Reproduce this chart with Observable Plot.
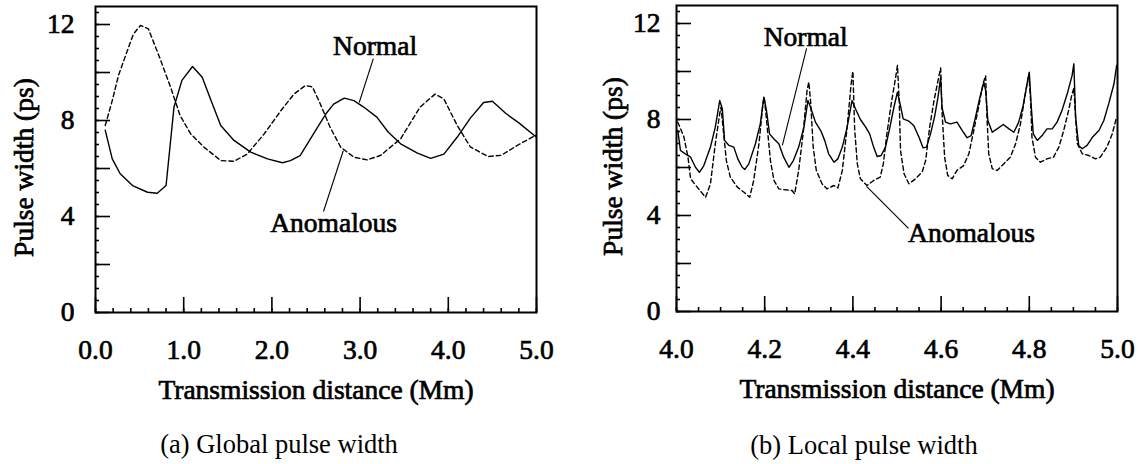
<!DOCTYPE html>
<html><head><meta charset="utf-8">
<script src="https://cdn.jsdelivr.net/npm/d3@7"></script>
<script src="https://cdn.jsdelivr.net/npm/@observablehq/plot@0.6"></script>
<style>
body{margin:0;background:#fff;}
#wrap{position:relative;width:1145px;height:464px;overflow:hidden;background:#fff;}
.panel{position:absolute;top:0;}
.panel text{stroke:#000;stroke-width:0.7px;}
.cap{position:absolute;font-family:"Liberation Serif","Times New Roman",serif;font-size:26.5px;color:#000;white-space:nowrap;transform:translate(-50%,-50%);}
</style></head><body>
<div id="wrap"></div>
<script>
// ---------- (a) Global pulse width ----------
const globalNormalX = [0.11,0.19,0.28,0.42,0.59,0.70,0.80,0.89,0.98,1.10,1.21,1.31,1.42,1.57,1.76,1.95,2.12,2.21,2.32,2.47,2.61,2.70,2.82,2.93,3.04,3.19,3.32,3.46,3.65,3.80,3.95,4.10,4.25,4.40,4.50,4.65,4.80,5.00];
const globalNormalY = [7.60,6.40,5.78,5.29,5.01,4.97,5.29,8.56,9.67,10.25,9.80,8.83,7.79,7.17,6.68,6.40,6.24,6.33,6.54,7.43,8.27,8.68,8.93,8.83,8.56,8.14,7.51,7.03,6.64,6.42,6.60,7.30,8.10,8.75,8.80,8.30,7.90,7.30];
const globalAnomX = [0.11,0.19,0.26,0.36,0.43,0.51,0.60,0.74,0.85,0.96,1.08,1.23,1.42,1.57,1.72,1.91,2.10,2.25,2.38,2.46,2.55,2.66,2.78,2.93,3.08,3.23,3.46,3.68,3.85,3.95,4.10,4.25,4.45,4.60,4.80,5.00];
const globalAnomY = [7.79,8.83,9.87,10.90,11.60,11.96,11.82,10.50,9.40,8.20,7.44,6.89,6.33,6.30,6.60,7.43,8.40,9.10,9.46,9.40,8.68,7.72,6.89,6.47,6.36,6.54,7.24,8.56,9.10,8.90,7.80,6.90,6.50,6.55,7.00,7.40];
const globalXTicks = [0,1,2,3,4,5];
const globalXTickLabels = ["0.0","1.0","2.0","3.0","4.0","5.0"];

// ---------- (b) Local pulse width ----------
const localNormalX = [4.003,4.009,4.020,4.032,4.043,4.052,4.062,4.077,4.088,4.098,4.104,4.109,4.119,4.130,4.139,4.149,4.155,4.164,4.179,4.190,4.198,4.204,4.211,4.221,4.232,4.243,4.255,4.265,4.277,4.289,4.298,4.304,4.315,4.327,4.336,4.345,4.357,4.366,4.376,4.387,4.398,4.406,4.417,4.429,4.438,4.447,4.455,4.464,4.474,4.484,4.493,4.501,4.507,4.514,4.527,4.538,4.550,4.559,4.567,4.576,4.585,4.593,4.599,4.602,4.610,4.621,4.636,4.648,4.659,4.668,4.678,4.688,4.697,4.701,4.706,4.716,4.727,4.741,4.754,4.765,4.776,4.786,4.795,4.800,4.804,4.809,4.818,4.829,4.840,4.852,4.863,4.874,4.886,4.897,4.901,4.905,4.912,4.920,4.931,4.943,4.958,4.969,4.980,4.992,4.998];
const localNormalY = [7.54,6.71,6.57,6.43,6.01,5.80,6.08,6.85,7.68,8.79,8.44,7.13,6.92,6.85,6.36,6.01,5.92,6.15,6.99,7.82,8.93,8.38,7.40,7.19,6.99,6.43,6.01,6.29,6.85,7.68,8.79,8.51,7.89,7.54,7.13,6.57,6.22,6.36,6.85,7.68,8.79,8.44,8.00,7.68,7.40,6.85,6.46,6.50,6.85,7.68,8.51,9.14,8.65,8.03,7.93,7.75,7.26,6.82,6.85,7.40,8.10,8.93,9.76,8.51,7.89,7.82,7.89,7.54,7.24,7.33,8.10,8.93,9.55,9.21,7.96,7.47,7.61,7.79,7.61,7.47,7.89,8.58,9.49,9.97,8.65,7.40,7.13,7.33,7.61,7.61,7.89,8.37,9.07,9.83,10.32,8.10,6.92,6.78,6.92,7.26,7.54,7.96,8.65,9.49,10.25];
const localAnomX = [4.003,4.017,4.026,4.032,4.047,4.066,4.077,4.088,4.098,4.101,4.107,4.113,4.122,4.138,4.153,4.166,4.175,4.187,4.196,4.199,4.205,4.213,4.221,4.232,4.247,4.262,4.268,4.277,4.287,4.296,4.300,4.304,4.310,4.317,4.330,4.341,4.357,4.366,4.376,4.387,4.396,4.400,4.404,4.410,4.417,4.432,4.447,4.462,4.469,4.477,4.488,4.497,4.501,4.505,4.508,4.516,4.527,4.542,4.557,4.565,4.574,4.584,4.593,4.599,4.602,4.608,4.615,4.625,4.636,4.651,4.663,4.674,4.685,4.695,4.701,4.704,4.708,4.716,4.727,4.742,4.757,4.769,4.780,4.791,4.799,4.803,4.806,4.814,4.825,4.840,4.855,4.867,4.878,4.889,4.897,4.901,4.905,4.909,4.920,4.935,4.950,4.961,4.976,4.988,4.998];
const localAnomY = [7.89,7.26,6.43,5.53,5.18,4.76,5.32,6.99,8.24,8.51,7.40,6.29,5.60,5.18,4.97,4.76,5.46,6.99,8.65,8.93,7.82,6.29,5.46,5.11,5.07,5.04,4.90,5.88,7.40,9.21,9.56,8.79,6.85,5.88,5.32,5.11,5.25,5.15,5.88,7.68,9.49,10.01,7.60,6.15,5.53,5.25,5.46,5.60,6.15,7.40,8.79,9.76,10.25,8.79,6.71,5.74,5.32,5.53,5.81,6.29,7.68,8.79,9.62,10.15,8.37,6.43,5.67,5.53,5.88,6.08,6.57,7.54,8.51,9.49,9.83,8.10,6.57,5.95,5.88,6.15,6.43,6.99,7.82,9.07,9.90,8.79,7.26,6.43,6.22,6.36,6.43,6.85,7.54,8.37,9.07,9.30,8.10,6.99,6.57,6.50,6.36,6.43,6.85,7.40,8.10];
const localXTicks = [4.0,4.2,4.4,4.6,4.8,5.0];
const localXTickLabels = ["4.0","4.2","4.4","4.6","4.8","5.0"];

// ---------- shared ----------
const yTicks = [0,4,8,12];
const yTickLabels = ["0","4","8","12"];
const xTitle = "Transmission distance (Mm)";
const yTitle = "Pulse width (ps)";
const captions = ["(a) Global pulse width","(b) Local pulse width"];

// annotation labels and leader lines (data units)
const globalNotes = [{x:3.17,y:11.1,text:"Normal"},{x:2.70,y:3.71,text:"Anomalous"}];
const globalLeaders = [{x1:3.15,y1:10.58,x2:2.99,y2:8.75},{x1:2.585,y1:4.21,x2:2.81,y2:6.75}];
const localNotes = [{x:4.293,y:11.42,text:"Normal"},{x:4.669,y:3.25,text:"Anomalous"}];
const localLeaders = [{x1:4.295,y1:10.96,x2:4.240,y2:6.92},{x1:4.526,y1:3.46,x2:4.431,y2:5.21}];

const FONT = "'Liberation Serif','Times New Roman',serif";

function makePanel(o) {
  const innerW = o.width - o.ml - o.mr;
  const innerH = o.height - o.mt - o.mb;
  const labelMap = new Map(o.xTicks.map((d,i)=>[+d.toFixed(3), o.xTickLabels[i]]));
  const yLabelMap = new Map(yTicks.map((d,i)=>[d, yTickLabels[i]]));
  const normal = o.nx.map((x,i)=>({x, y:o.ny[i]}));
  const anom = o.ax.map((x,i)=>({x, y:o.ay[i]}));
  return Plot.plot({
    width: o.width, height: o.height,
    marginLeft: o.ml, marginRight: o.mr, marginTop: o.mt, marginBottom: o.mb,
    x: {domain: o.xdom},
    y: {domain: [0, 12.75]},
    style: {fontFamily: FONT, fontSize: "27.5px", fontWeight: "normal", color: "#000", background: "#fff", overflow: "visible"},
    marks: [
      Plot.line(anom, {x:"x", y:"y", stroke:"#000", strokeWidth:1.4, strokeDasharray:"4.5,3", curve:"linear"}),
      Plot.line(normal, {x:"x", y:"y", stroke:"#000", strokeWidth:1.4, curve:"linear"}),
      Plot.tickX(o.xMinor, {x:d=>d, insetTop: innerH - 4, stroke:"#000", strokeWidth:1.6}),
      Plot.tickX(o.xLong, {x:d=>d, insetTop: innerH - 15, stroke:"#000", strokeWidth:1.6}),
      Plot.tickY(o.yMinor, {y:d=>d, insetRight: innerW - 4, stroke:"#000", strokeWidth:1.6}),
      Plot.tickY(o.yLong, {y:d=>d, insetRight: innerW - 15, stroke:"#000", strokeWidth:1.6}),
      Plot.frame({stroke:"#000", strokeWidth:2}),
      Plot.axisX(o.xTicks, {anchor:"bottom", tickSize:0, tickPadding:27, label:null, tickFormat:d=>labelMap.get(+d.toFixed(3))}),
      Plot.axisY(yTicks, {anchor:"left", tickSize:0, tickPadding:o.yPad, label:null, tickFormat:d=>yLabelMap.get(d)}),
      Plot.text([xTitle], {frameAnchor:"bottom", textAnchor:"middle", lineAnchor:"middle", dy:78, text:d=>d}),
      Plot.text([yTitle], {frameAnchor:"left", textAnchor:"middle", lineAnchor:"middle", dx:o.yTitleDx, dy:8, rotate:-90, text:d=>d}),
      Plot.link(o.leaders, {x1:"x1", y1:"y1", x2:"x2", y2:"y2", stroke:"#000", strokeWidth:1.1}),
      Plot.text(o.notes, {x:"x", y:"y", text:"text", textAnchor:"middle", lineAnchor:"middle"})
    ]
  });
}

const wrap = document.getElementById("wrap");
const left = makePanel({
  width:572, height:410, ml:95, mr:36, mt:6, mb:98,
  xdom:[0,5], xTicks:globalXTicks, xTickLabels:globalXTickLabels,
  xLong:globalXTicks, xMinor:d3.range(0, 5.0001, 0.2),
  yLong:d3.range(0, 12.01, 2), yMinor:d3.range(0, 12.51, 0.5),
  nx:globalNormalX, ny:globalNormalY, ax:globalAnomX, ay:globalAnomY,
  notes:globalNotes, leaders:globalLeaders, yTitleDx:-71, yPad:21
});
left.classList.add("panel"); left.style.left = "0px";
wrap.appendChild(left);

const right = makePanel({
  width:573, height:410, ml:104, mr:28, mt:5, mb:99,
  xdom:[4,5], xTicks:localXTicks, xTickLabels:localXTickLabels,
  xLong:localXTicks, xMinor:d3.range(4, 5.0001, 0.05),
  yLong:d3.range(0, 12.01, 2), yMinor:d3.range(0, 12.51, 0.5),
  nx:localNormalX, ny:localNormalY, ax:localAnomX, ay:localAnomY,
  notes:localNotes, leaders:localLeaders, yTitleDx:-63, yPad:16
});
right.classList.add("panel"); right.style.left = "572px";
wrap.appendChild(right);

[[captions[0],279,444],[captions[1],864,445]].forEach(([t,x,y])=>{
  const d = document.createElement("div");
  d.className = "cap"; d.textContent = t;
  d.style.left = x+"px"; d.style.top = y+"px";
  wrap.appendChild(d);
});
</script>
</body></html>
